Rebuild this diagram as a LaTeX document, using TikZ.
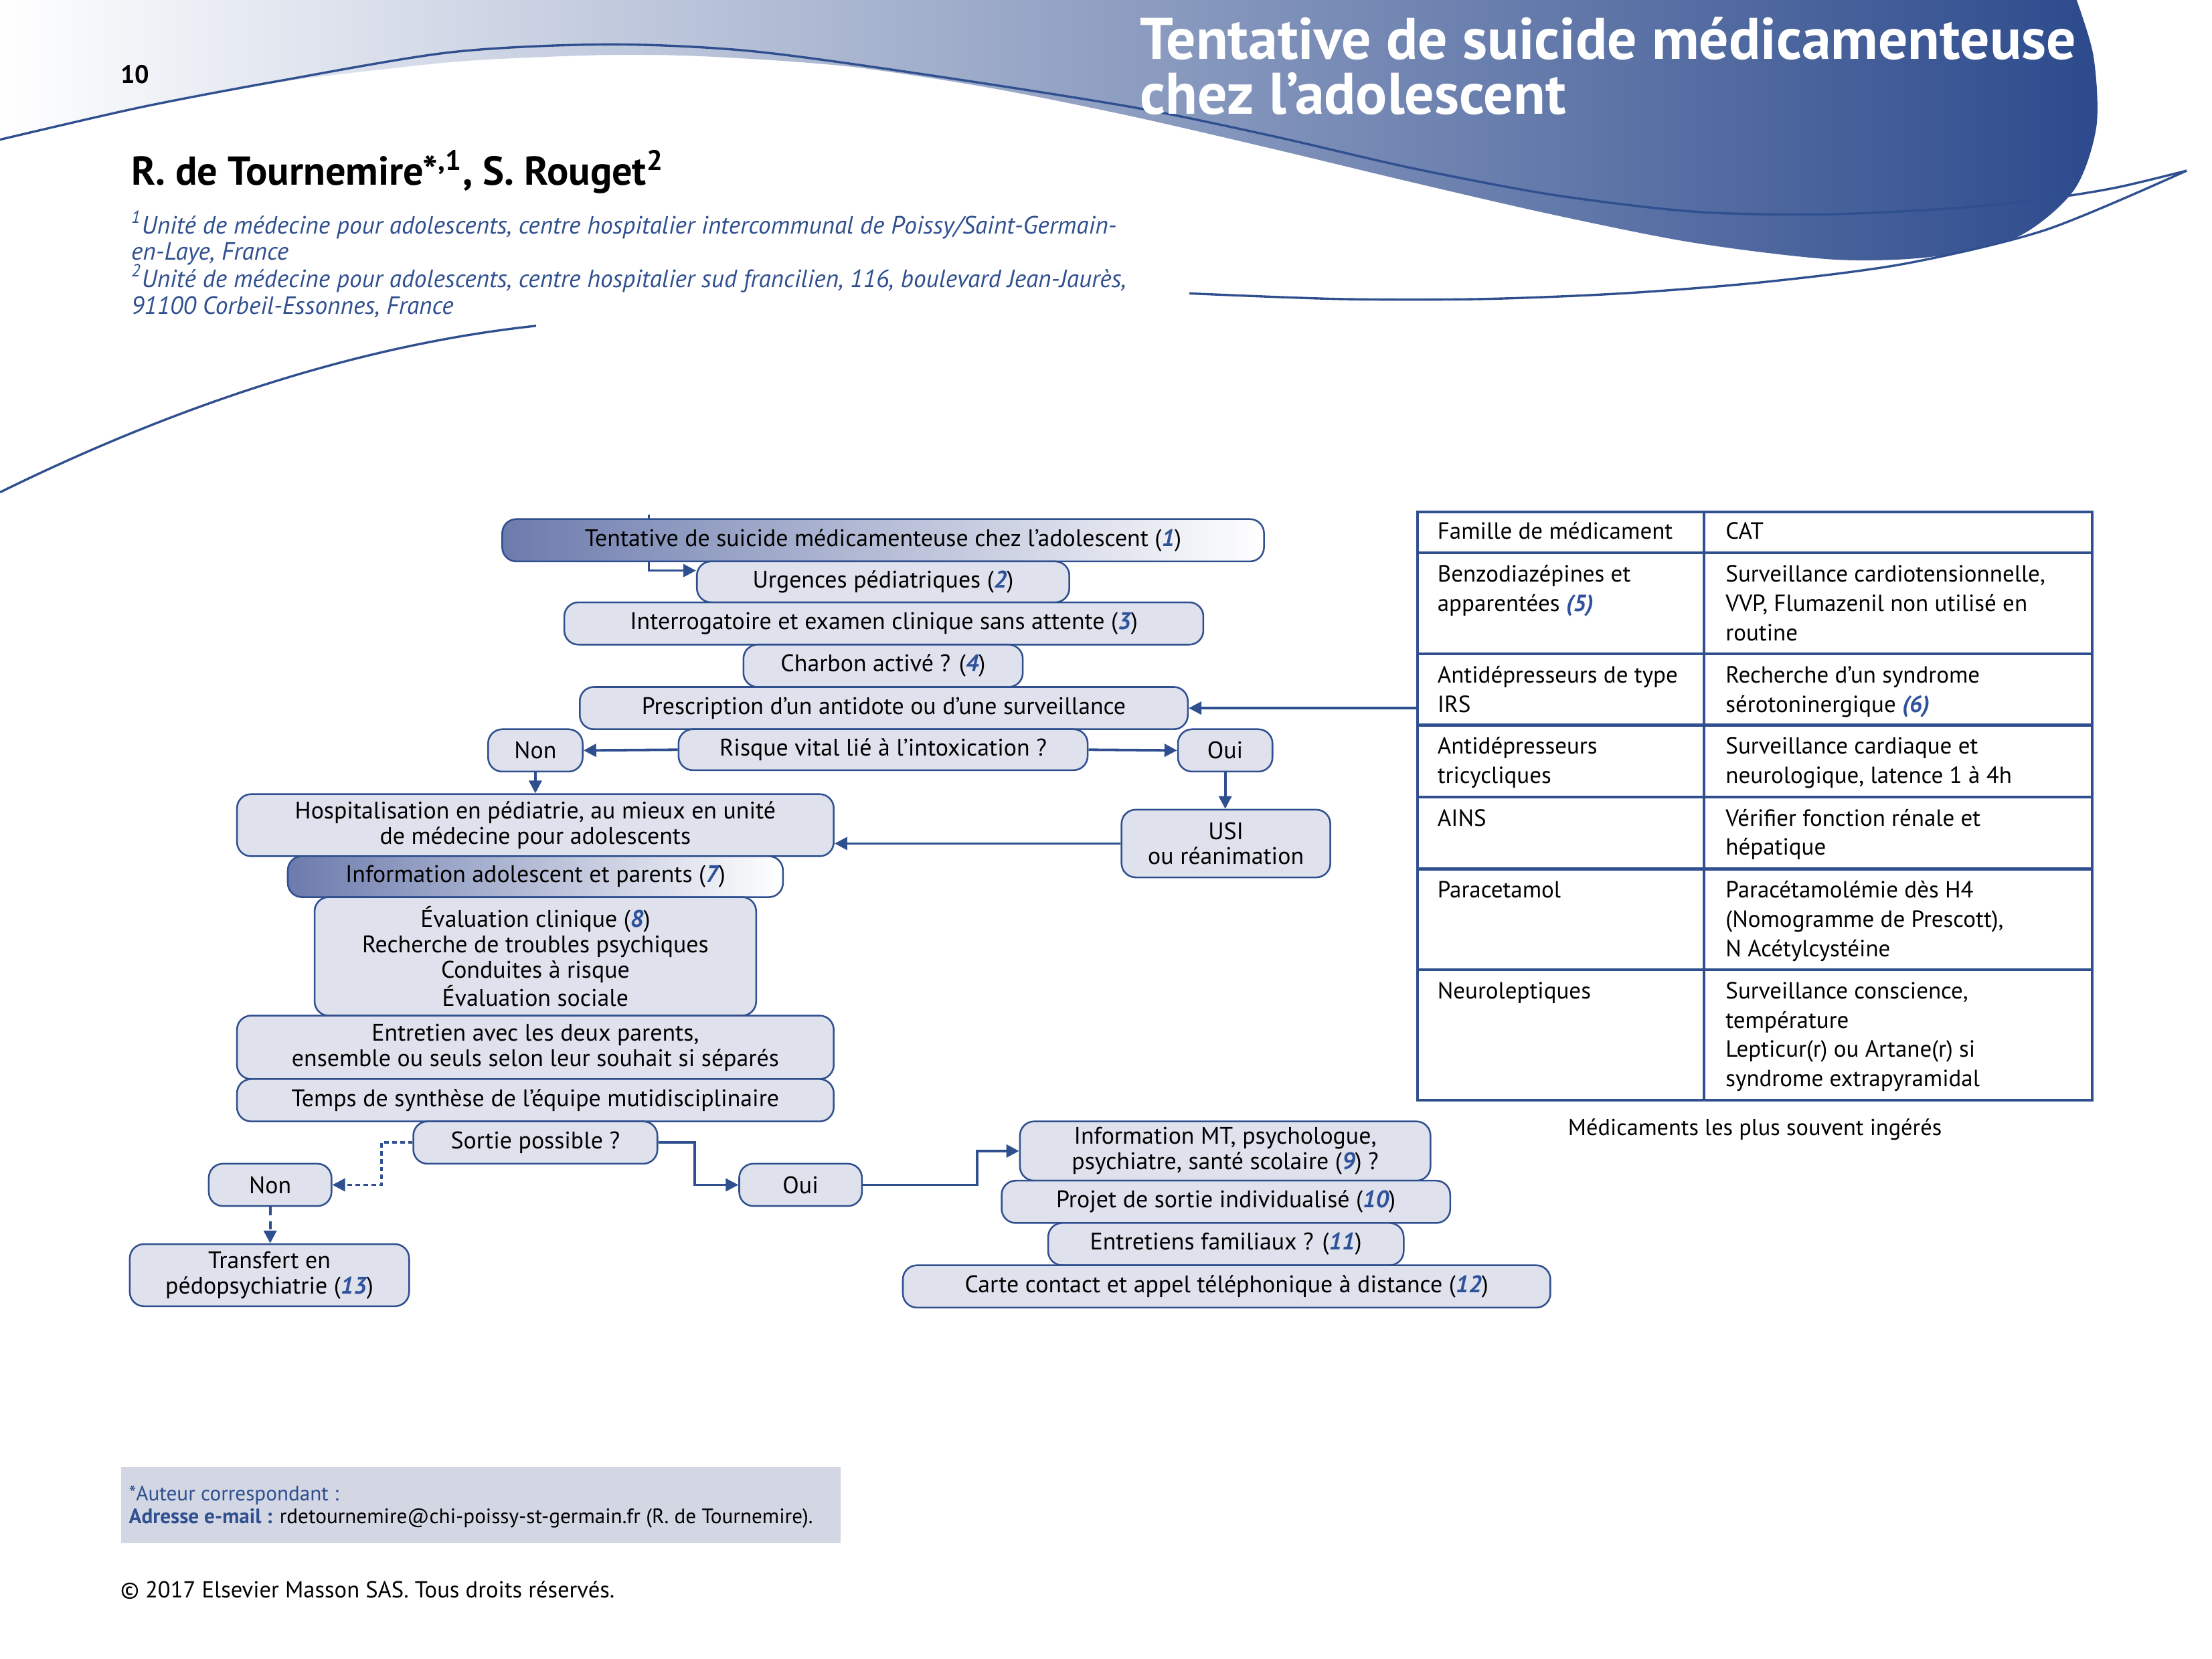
\documentclass[tikz,border=0pt]{standalone}
\usepackage{fontspec}
\setmainfont{PT Sans}
\usetikzlibrary{arrows.meta,backgrounds}
\definecolor{hdr}{RGB}{44,74,140}
\definecolor{ln}{RGB}{47,79,143}
\definecolor{nf}{RGB}{223,226,237}
\definecolor{gl}{RGB}{108,123,173}
\definecolor{numc}{RGB}{47,82,155}
\definecolor{footbg}{RGB}{211,215,228}
\newcommand{\nb}[1]{{\color{numc}\bfseries\itshape #1}}
\newcommand{\mkbox}[7][]{\node[box,#1,minimum width={(#4-#2)*0.5pt},minimum height={(#5-#3)*0.5pt}] (#6) at ({(#2+#4)/2},{(#3+#5)/2}) {#7};}
\newcommand{\tcell}[4]{\node[anchor=base west,inner sep=0pt] (#1) at (#2,#3) {\parbox[t]{125pt}{\raggedright\fontsize{8.3}{10.4}\selectfont #4}};}
\begin{document}
\begin{tikzpicture}[x=0.5pt,y=-0.5pt,
  box/.style={draw=ln, line width=0.6pt, fill=nf, rounded corners=5pt, inner sep=0pt, align=center, font=\fontsize{8.5}{9}\selectfont},
  gbox/.style={left color=gl, right color=white},
  arr/.style={draw=ln, line width=0.9pt, -{Triangle[length=4.5pt,width=4.5pt]}},
  darr/.style={arr, dash pattern=on 1.6pt off 1.2pt},
  darr2/.style={arr, dash pattern=on 3pt off 2pt},
  curve/.style={draw=ln, line width=0.8pt},
  tline/.style={draw=ln, line width=1pt}]
\useasboundingbox (0,0) rectangle (1568,1176);

% ---------- header graphics ----------
\shade[left color=white, right color=hdr] (0,0) -- (1472,0) -- plot[smooth] coordinates {(1472,0) (1484,40) (1486,90) (1470,135) (1430,168) (1370,182) (1300,184) (1200,172) (1100,152) (1000,129) (900,105) (800,82) (700,62) (600,47) (500,40) (430,39) (350,42) (300,46) (200,58) (100,76) (0,99)} -- cycle;
\draw[curve] plot[smooth] coordinates {(0,99) (100,76) (200,57) (320,37) (430,31.5) (530,36) (650,52) (800,75.5) (900,96) (1000,119) (1100,138) (1200,150) (1290,152) (1380,148) (1450,141) (1500,133) (1550,121)};
\draw[curve] plot[smooth] coordinates {(843,208) (950,212) (1050,212) (1150,208) (1250,200) (1350,187) (1450,163) (1550,121)};
\draw[curve] (0,349) .. controls (120,290) and (250,245) .. (380,231);

\node[anchor=base west, inner sep=0pt, text=white, font=\fontsize{20.8}{20.8}\selectfont\bfseries] (title1) at (808,42) {Tentative de suicide médicamenteuse};
\node[anchor=base west, inner sep=0pt, text=white, font=\fontsize{20.8}{20.8}\selectfont\bfseries] (title2) at (808,81) {chez l’adolescent};
\node[anchor=base west, inner sep=0pt, font=\fontsize{9}{9}\selectfont\bfseries] (pg) at (85,59) {10};
\node[anchor=base west, inner sep=0pt, font=\fontsize{14.3}{14.3}\selectfont\bfseries] (auth) at (92.6,131) {R. de Tournemire*\textsuperscript{,1}, S. Rouget\textsuperscript{2}};
\begin{scope}[every node/.style={anchor=base west, inner sep=0pt, text=ln, font=\fontsize{8.85}{9}\selectfont\itshape}]
\node (af1) at (92.6,166) {\textsuperscript{1}Unité de médecine pour adolescents, centre hospitalier intercommunal de Poissy/Saint-Germain-};
\node (af2) at (92.6,184.5) {en-Laye, France};
\node (af3) at (92.6,204) {\textsuperscript{2}Unité de médecine pour adolescents, centre hospitalier sud francilien, 116, boulevard Jean-Jaurès,};
\node (af4) at (92.6,222.8) {91100 Corbeil-Essonnes, France};
\end{scope}

% ---------- flowchart boxes ----------
\mkbox[gbox]{356}{368}{896}{398}{tent}{Tentative de suicide médicamenteuse chez l’adolescent (\nb{1})}
\mkbox{494}{398}{758}{427}{urg}{Urgences pédiatriques (\nb{2})}
\mkbox{400}{427}{853}{457}{interr}{Interrogatoire et examen clinique sans attente (\nb{3})}
\mkbox{527}{457}{725}{487}{charb}{Charbon activé ? (\nb{4})}
\mkbox{411}{487}{842}{517}{presc}{Prescription d’un antidote ou d’une surveillance}
\mkbox{481}{517}{771}{546}{risq}{Risque vital lié à l’intoxication ?}
\mkbox{346}{517}{413}{547}{non1}{Non}
\mkbox{835}{517}{902}{547}{oui1}{Oui}
\mkbox{168}{563}{591}{607}{hosp}{Hospitalisation en pédiatrie, au mieux en unité\\de médecine pour adolescents}
\mkbox{795}{574}{943}{622}{usi}{USI\\ou réanimation}
\mkbox[gbox]{204}{607}{555}{636}{info}{Information adolescent et parents (\nb{7})}
\mkbox{223}{636}{536}{720}{eval}{Évaluation clinique (\nb{8})\\Recherche de troubles psychiques\\Conduites à risque\\Évaluation sociale}
\mkbox{168}{720}{591}{765}{entr}{Entretien avec les deux parents,\\ensemble ou seuls selon leur souhait si séparés}
\mkbox{168}{765}{591}{795}{temps}{Temps de synthèse de l’équipe mutidisciplinaire}
\mkbox{293}{795}{466}{825}{sortie}{Sortie possible ?}
\mkbox{148}{825}{235}{855}{non2}{Non}
\mkbox{524}{825}{611}{855}{oui2}{Oui}
\mkbox{92}{882}{290}{926}{transf}{Transfert en\\pédopsychiatrie (\nb{13})}
\mkbox{723}{795}{1014}{837}{infomt}{Information MT, psychologue,\\psychiatre, santé scolaire (\nb{9}) ?}
\mkbox{710}{837}{1028}{867}{projet}{Projet de sortie individualisé (\nb{10})}
\mkbox{743}{867}{995}{897}{entfam}{Entretiens familiaux ? (\nb{11})}
\mkbox{640}{897}{1099}{927}{carte}{Carte contact et appel téléphonique à distance (\nb{12})}

% ---------- table ----------
\draw[tline] (1005,363) rectangle (1483,780);
\foreach \yy in {392,463.5,514,565,616,687.5} \draw[tline] (1005,\yy) -- (1483,\yy);
\draw[tline] (1208,363) -- (1208,780);
\coordinate (tabl) at (1005,502);
\tcell{a1}{1018.6}{382}{Famille de médicament}
\tcell{b1}{1222.9}{382}{CAT}
\tcell{a2}{1018.6}{412.5}{Benzodiazépines et\\apparentées \nb{(5)}}
\tcell{b2}{1222.9}{412.5}{Surveillance cardiotensionnelle,\\VVP, Flumazenil non utilisé en\\routine}
\tcell{a3}{1018.6}{484}{Antidépresseurs de type\\IRS}
\tcell{b3}{1222.9}{484}{Recherche d’un syndrome\\sérotoninergique \nb{(6)}}
\tcell{a4}{1018.6}{534.5}{Antidépresseurs\\tricycliques}
\tcell{b4}{1222.9}{534.5}{Surveillance cardiaque et\\neurologique, latence 1 à 4h}
\tcell{a5}{1018.6}{585.5}{AINS}
\tcell{b5}{1222.9}{585.5}{Vérifier fonction rénale et\\hépatique}
\tcell{a6}{1018.6}{636.5}{Paracetamol}
\tcell{b6}{1222.9}{636.5}{Paracétamolémie dès H4\\(Nomogramme de Prescott),\\N Acétylcystéine}
\tcell{a7}{1018.6}{708}{Neuroleptiques}
\tcell{b7}{1222.9}{708}{Surveillance conscience,\\température\\Lepticur(r) ou Artane(r) si\\syndrome extrapyramidal}
\node[anchor=base, inner sep=0pt, font=\fontsize{8.15}{9}\selectfont] (capt) at (1244,805) {Médicaments les plus souvent ingérés};

% ---------- connectors ----------
\begin{pgfonlayer}{background}
\coordinate (c0) at (460,365);
\coordinate (c1) at (460,404.5);
\draw[arr] (c0) -- (c1) -- (c1 -| urg.west);
\end{pgfonlayer}
\draw[arr] (tabl) -- (presc.east);
\draw[arr] (risq.west) -- (non1.east);
\draw[arr] (risq.east) -- (oui1.west);
\draw[arr] (non1.south) -- (non1 |- hosp.north);
\draw[arr] (oui1.south) -- (oui1 |- usi.north);
\draw[arr] (usi.west) -- (usi.west -| hosp.east);
\draw[darr] (sortie.west) -- ++(-22,0) |- (non2.east);
\draw[darr2] (non2.south) -- (non2 |- transf.north);
\draw[arr] (sortie.east) -- ++(26,0) |- (oui2.west);
\draw[arr] (oui2.east) -- ++(81,0) |- (infomt.west);

% ---------- footer ----------
\fill[footbg] (85.7,1040) rectangle (595.7,1094);
\node[anchor=base west, inner sep=0pt, text=ln, font=\fontsize{7.4}{8}\selectfont] (au) at (91,1064) {*Auteur correspondant :};
\node[anchor=base west, inner sep=0pt, font=\fontsize{7.4}{8}\selectfont] (mail) at (91,1080) {{\color{ln}\bfseries Adresse e-mail :} rdetournemire@chi-poissy-st-germain.fr (R. de Tournemire).};
\node[anchor=base west, inner sep=0pt, font=\fontsize{8.2}{9}\selectfont] (copy) at (85,1132.5) {© 2017 Elsevier Masson SAS. Tous droits réservés.};
\end{tikzpicture}
\end{document}
